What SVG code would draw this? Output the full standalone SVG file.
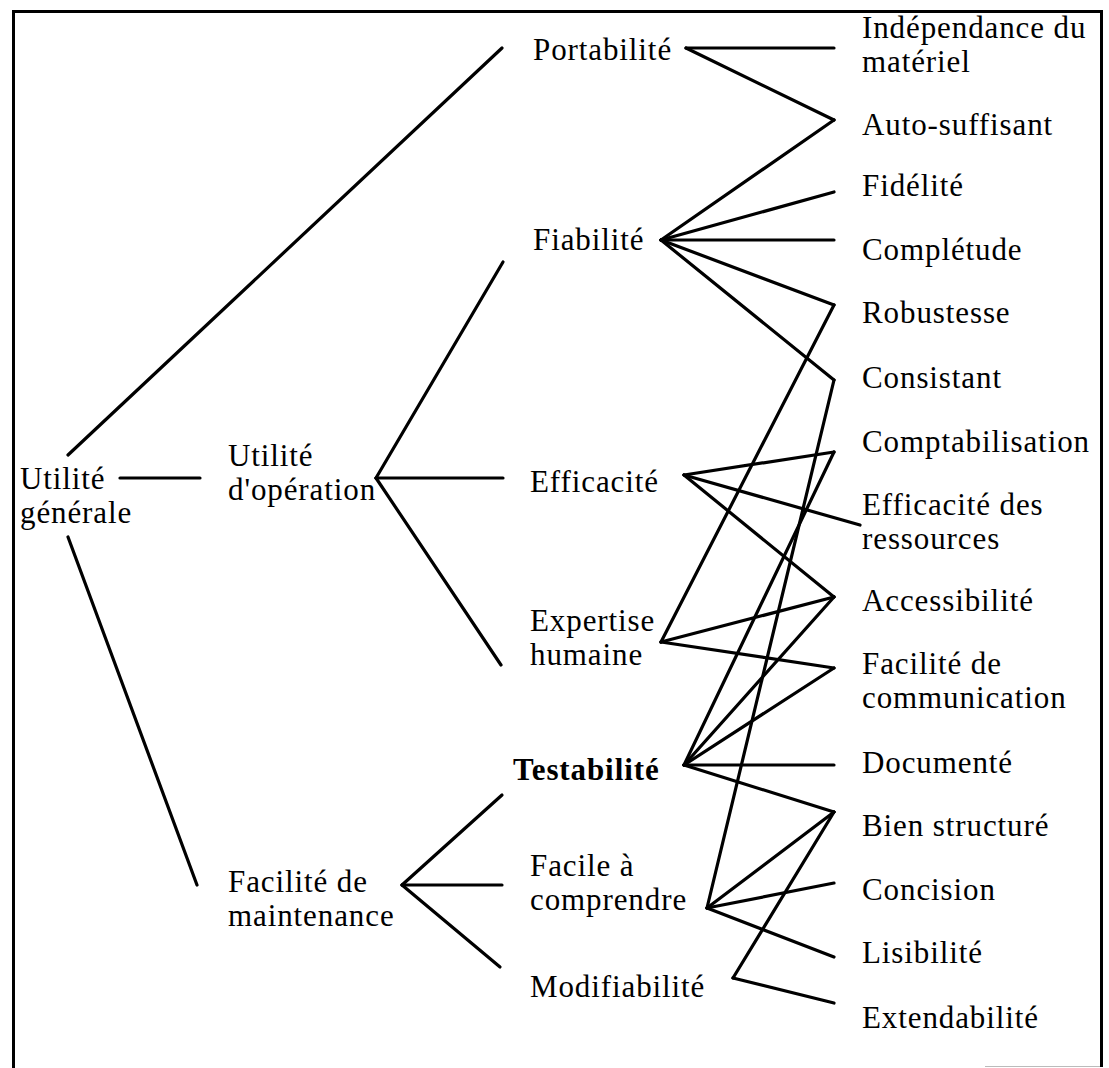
<svg xmlns="http://www.w3.org/2000/svg" width="1109" height="1068" viewBox="0 0 1109 1068">
<style>
text{font-family:"Liberation Serif","Times New Roman",serif;font-size:31px;letter-spacing:0.9px;fill:#000}
.b{font-weight:bold}
#connectors line{stroke:#000;stroke-width:3.2;stroke-linecap:round}
.frame{stroke:#000;stroke-width:3;fill:none}
</style>
<rect width="1109" height="1068" fill="#fff"/>
<g id="frame">
<line class="frame" x1="12" y1="11.5" x2="1103" y2="11.5"/>
<line class="frame" x1="13.5" y1="10" x2="13.5" y2="1068"/>
<line class="frame" x1="1101.5" y1="10" x2="1101.5" y2="1067"/>
<line x1="985" y1="1066.5" x2="1100" y2="1066.5" stroke="#bbb" stroke-width="1"/>
</g>
<g id="connectors">
<line x1="68" y1="455" x2="502" y2="48"/>
<line x1="120" y1="478" x2="200" y2="478"/>
<line x1="68" y1="537" x2="197" y2="885"/>
<line x1="376" y1="478" x2="503" y2="262"/>
<line x1="376" y1="478" x2="503" y2="478"/>
<line x1="376" y1="478" x2="501" y2="665"/>
<line x1="686" y1="48" x2="834" y2="48"/>
<line x1="686" y1="48" x2="834" y2="120"/>
<line x1="661" y1="240" x2="834" y2="120"/>
<line x1="661" y1="240" x2="834" y2="192"/>
<line x1="661" y1="240" x2="834" y2="240"/>
<line x1="661" y1="240" x2="834" y2="305"/>
<line x1="661" y1="240" x2="834" y2="380"/>
<line x1="684" y1="475" x2="834" y2="452"/>
<line x1="684" y1="475" x2="860" y2="525"/>
<line x1="684" y1="475" x2="834" y2="597"/>
<line x1="661" y1="642" x2="834" y2="305"/>
<line x1="661" y1="642" x2="834" y2="597"/>
<line x1="661" y1="642" x2="834" y2="668"/>
<line x1="684" y1="765" x2="834" y2="452"/>
<line x1="684" y1="765" x2="834" y2="597"/>
<line x1="684" y1="765" x2="834" y2="668"/>
<line x1="684" y1="765" x2="834" y2="765"/>
<line x1="684" y1="765" x2="834" y2="812"/>
<line x1="707" y1="908" x2="834" y2="380"/>
<line x1="707" y1="908" x2="834" y2="812"/>
<line x1="707" y1="908" x2="834" y2="883"/>
<line x1="707" y1="908" x2="834" y2="957"/>
<line x1="733" y1="978" x2="834" y2="812"/>
<line x1="733" y1="978" x2="834" y2="1003"/>
<line x1="402" y1="885" x2="502" y2="795"/>
<line x1="402" y1="885" x2="502" y2="885"/>
<line x1="402" y1="885" x2="500" y2="967"/>
</g>
<g id="utilite-generale"><text x="20" y="489">Utilité</text><text x="20" y="523">générale</text></g>
<g id="utilite-operation"><text x="228" y="466">Utilité</text><text x="228" y="500">d'opération</text></g>
<g id="facilite-maintenance"><text x="228" y="892">Facilité de</text><text x="228" y="926">maintenance</text></g>
<g id="portabilite"><text x="533" y="60">Portabilité</text></g>
<g id="fiabilite"><text x="533" y="250">Fiabilité</text></g>
<g id="efficacite"><text x="530" y="492">Efficacité</text></g>
<g id="expertise"><text x="530" y="631">Expertise</text><text x="530" y="665">humaine</text></g>
<g id="testabilite"><text class="b" x="513" y="780">Testabilité</text></g>
<g id="facile"><text x="530" y="876">Facile à</text><text x="530" y="910">comprendre</text></g>
<g id="modifiabilite"><text x="530" y="997">Modifiabilité</text></g>
<g id="independance"><text x="862" y="38">Indépendance du</text><text x="862" y="72">matériel</text></g>
<g id="auto-suffisant"><text x="862" y="135">Auto-suffisant</text></g>
<g id="fidelite"><text x="862" y="196">Fidélité</text></g>
<g id="completude"><text x="862" y="260">Complétude</text></g>
<g id="robustesse"><text x="862" y="323">Robustesse</text></g>
<g id="consistant"><text x="862" y="388">Consistant</text></g>
<g id="comptabilisation"><text x="862" y="452">Comptabilisation</text></g>
<g id="efficacite-ressources"><text x="862" y="515">Efficacité des</text><text x="862" y="549">ressources</text></g>
<g id="accessibilite"><text x="862" y="611">Accessibilité</text></g>
<g id="facilite-communication"><text x="862" y="674">Facilité de</text><text x="862" y="708">communication</text></g>
<g id="documente"><text x="862" y="773">Documenté</text></g>
<g id="bien-structure"><text x="862" y="836">Bien structuré</text></g>
<g id="concision"><text x="862" y="900">Concision</text></g>
<g id="lisibilite"><text x="862" y="963">Lisibilité</text></g>
<g id="extendabilite"><text x="862" y="1028">Extendabilité</text></g>
</svg>
